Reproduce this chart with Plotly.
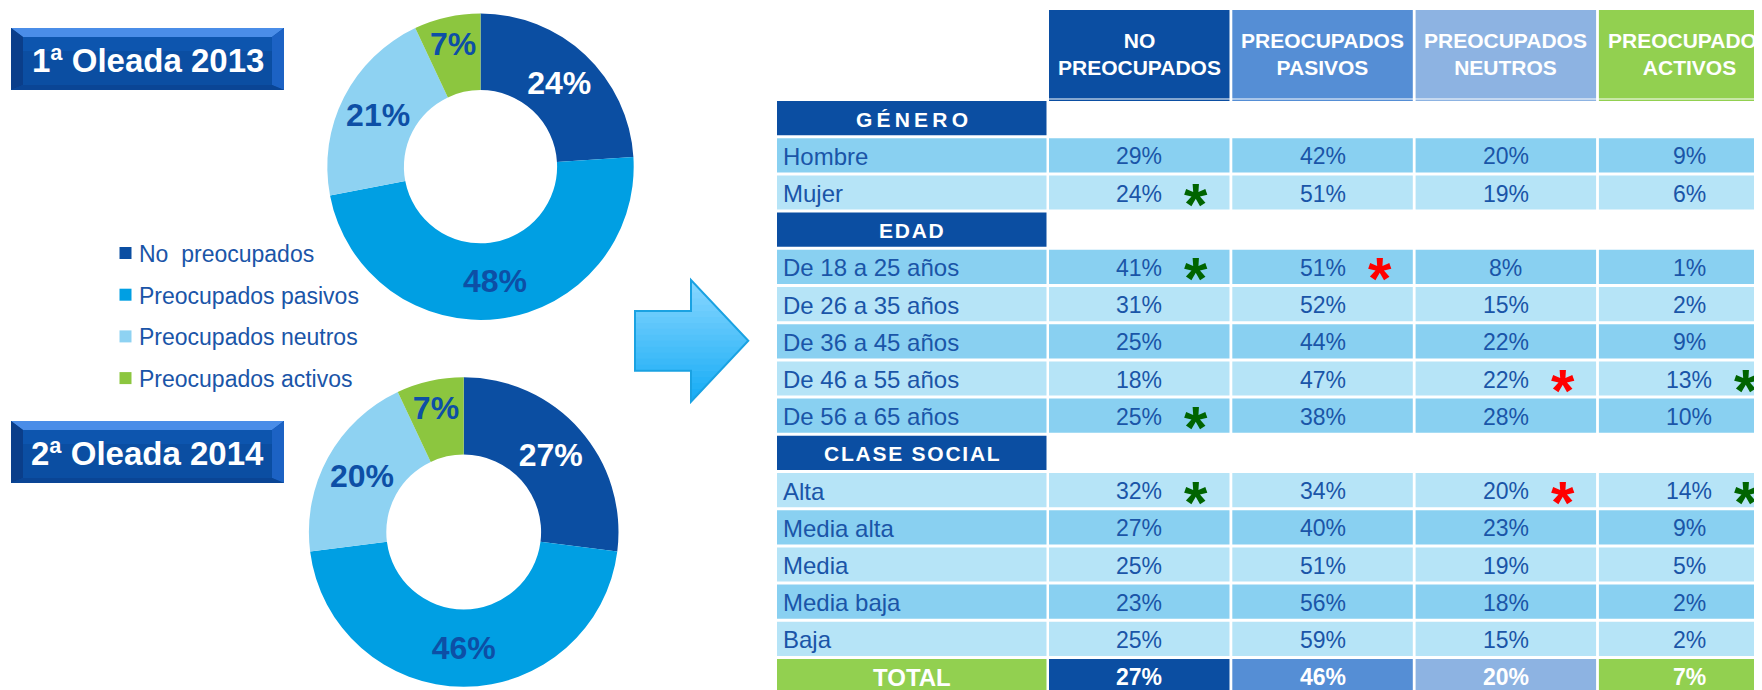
import plotly.graph_objects as go

# page is rendered with an 8px body margin; figure fills the rest of the 1762x690 window
OFF = 8
W, H = 1762 - OFF, 690 - OFF

# ---------------- data ----------------
segments = ["No  preocupados", "Preocupados pasivos", "Preocupados neutros", "Preocupados activos"]
wave_titles = ["1ª Oleada 2013", "2ª Oleada 2014"]
wave_2013 = [24, 48, 21, 7]
wave_2014 = [27, 46, 20, 7]

column_headers = ["NO<br>PREOCUPADOS", "PREOCUPADOS<br>PASIVOS", "PREOCUPADOS<br>NEUTROS", "PREOCUPADOS<br>ACTIVOS"]
sections = ["GÉNERO", "EDAD", "CLASE SOCIAL"]
section_rows = [
    ["Hombre", "Mujer"],
    ["De 18 a 25 años", "De 26 a 35 años", "De 36 a 45 años", "De 46 a 55 años", "De 56 a 65 años"],
    ["Alta", "Media alta", "Media", "Media baja", "Baja"],
]
no_preocupados = [29, 24, 41, 31, 25, 18, 25, 32, 27, 25, 23, 25]
pasivos = [42, 51, 51, 52, 44, 47, 38, 34, 40, 51, 56, 59]
neutros = [20, 19, 8, 15, 22, 22, 28, 20, 23, 19, 18, 15]
activos = [9, 6, 1, 2, 9, 13, 10, 14, 9, 5, 2, 2]
total_label = "TOTAL"
total_values = [27, 46, 20, 7]
# significance marks: "g" = green asterisk, "r" = red asterisk
sig_no_preocupados = ["", "g", "g", "", "", "", "g", "g", "", "", "", ""]
sig_pasivos = ["", "", "r", "", "", "", "", "", "", "", "", ""]
sig_neutros = ["", "", "", "", "", "r", "", "r", "", "", "", ""]
sig_activos = ["", "", "", "", "", "g", "", "g", "", "", "", ""]

# ---------------- styles ----------------
segment_colors = ["#0B4EA2", "#009FE3", "#8ED2F2", "#8CC63F"]
slice_text_colors = ["#FFFFFF", "#0D4FA6", "#0D4FA6", "#0D4FA6"]
header_colors = ["#0B4EA2", "#558ED5", "#8DB3E2", "#92D050"]
row_dark, row_light = "#89D0F1", "#B6E4F7"
text_blue = "#1A55A8"
sig_colors = {"g": "#006400", "r": "#FF0000"}
SANS = "Liberation Sans, Arial, sans-serif"


def px(x):
    return (x - OFF) / W


def py(y):
    return 1 - (y - OFF) / H


shapes = []
annotations = []


def rect(x0, y0, x1, y1, color):
    shapes.append(dict(type="rect", xref="paper", yref="paper", x0=px(x0), x1=px(x1),
                       y0=py(y1), y1=py(y0), fillcolor=color, line=dict(width=0), layer="below"))


def poly(points, color=None, line_color=None, line_width=0):
    d = "M " + " L ".join(f"{px(a):.6f},{py(b):.6f}" for a, b in points) + " Z"
    shapes.append(dict(type="path", xref="paper", yref="paper", path=d,
                       fillcolor=color if color else "rgba(0,0,0,0)",
                       line=dict(width=line_width, color=line_color or "rgba(0,0,0,0)"), layer="below"))


def text(x, y, s, size, color, bold=False, xanchor="center", yshift=0):
    annotations.append(dict(x=px(x), y=py(y), xref="paper", yref="paper", text=s, showarrow=False,
                            xanchor=xanchor, yanchor="middle", yshift=yshift,
                            font=dict(family=SANS, size=size, color=color,
                                      weight="bold" if bold else "normal")))


def mix(c1, c2, t):
    a = [int(c1[i:i + 2], 16) for i in (1, 3, 5)]
    b = [int(c2[i:i + 2], 16) for i in (1, 3, 5)]
    return "#" + "".join(f"{round(a[i] + (b[i] - a[i]) * t):02X}" for i in range(3))


fig = go.Figure()

# ---------------- donuts ----------------
donuts = [
    (wave_2013, (480.5, 166.7, 153.2)),
    (wave_2014, (463.7, 532.0, 154.8)),
]
for vals, (cx, cy, r) in donuts:
    fig.add_trace(go.Pie(
        values=vals, labels=segments, hole=0.5, sort=False, direction="clockwise", rotation=0,
        marker=dict(colors=segment_colors, line=dict(width=0)),
        texttemplate="%{value}%", textposition="inside", insidetextorientation="horizontal",
        textfont=dict(family=SANS, size=32, color=slice_text_colors, weight="bold"),
        domain=dict(x=[px(cx - r), px(cx + r)], y=[py(cy + r), py(cy - r)]),
        showlegend=False, hoverinfo="skip",
    ))

# title boxes with bevel
for title, (bx0, by0) in zip(wave_titles, [(11, 28), (11, 421)]):
    bx1, by1 = bx0 + 273, by0 + 62
    t, s, b = 9, 12, 5
    rect(bx0, by0, bx1, by1, "#0B4EA2")
    rect(bx0 + s, by0 + t, bx1 - s, by0 + t + 14, "#0D55AE")
    poly([(bx0, by0), (bx1, by0), (bx1 - s, by0 + t), (bx0 + s, by0 + t)], "#4A8DE8")
    poly([(bx0, by0), (bx0 + s, by0 + t), (bx0 + s, by1 - b), (bx0, by1)], "#0A3E8A")
    poly([(bx1, by0), (bx1 - s, by0 + t), (bx1 - s, by1 - b), (bx1, by1)], "#1C62C4")
    poly([(bx0, by1), (bx0 + s, by1 - b), (bx1 - s, by1 - b), (bx1, by1)], "#0A4595")
    text((bx0 + bx1) / 2, (by0 + by1) / 2 + 1, title, 33, "#FFFFFF", bold=True)

# legend
for i, (lab, col) in enumerate(zip(segments, segment_colors)):
    yc = 253 + 41.7 * i
    rect(119.5, yc - 6, 131.5, yc + 6, col)
    text(136.5, yc + 1, lab.replace("  ", "&nbsp; "), 23, text_blue, xanchor="left")

# arrow (vertical gradient built from thin strips over a solid base)
ax0, ax_neck, ax_tip = 635, 691, 748.3
ay_head_top, ay_body_top, ay_tip, ay_body_bot, ay_head_bot = 280, 311, 340.7, 370.7, 401.7
arrow_pts = [(ax0, ay_body_top), (ax_neck, ay_body_top), (ax_neck, ay_head_top), (ax_tip, ay_tip),
             (ax_neck, ay_head_bot), (ax_neck, ay_body_bot), (ax0, ay_body_bot)]
top_col, bot_col = "#8AD7FF", "#14ABF5"
poly(arrow_pts, mix(top_col, bot_col, 0.5))


def arrow_right(y):
    if y <= ay_tip:
        return ax_neck + (y - ay_head_top) / (ay_tip - ay_head_top) * (ax_tip - ax_neck)
    return ax_neck + (ay_head_bot - y) / (ay_head_bot - ay_tip) * (ax_tip - ax_neck)


bands = [(ay_head_top, ay_body_top, ax_neck), (ay_body_top, ay_tip, ax0),
         (ay_tip, ay_body_bot, ax0), (ay_body_bot, ay_head_bot, ax_neck)]
for ya, yb, left in bands:
    n = 5
    for i in range(n):
        y0 = ya + (yb - ya) * i / n
        y1 = ya + (yb - ya) * (i + 1) / n
        y1e = min(y1 + 1.0, yb)
        tmid = ((y0 + y1) / 2 - ay_head_top) / (ay_head_bot - ay_head_top)
        pts = [(left, y0), (arrow_right(y0), y0)]
        if y0 < ay_tip < y1e:
            pts.append((ax_tip, ay_tip))
        pts += [(arrow_right(y1e), y1e), (left, y1e)]
        poly(pts, mix(top_col, bot_col, tmid))
poly(arrow_pts, None, "#1AA2E2", 2)

# ---------------- table ----------------
label_x0, label_x1 = 777, 1046.5
col_x0 = [1049 + 183.3 * j for j in range(4)]
col_w = 180.5
row_top0, row_pitch, row_h = 101, 37.2, 34.2
header_top, header_bot = 10, 98.6

for j in range(4):
    x0 = col_x0[j]
    rect(x0, header_top, x0 + col_w, header_bot, header_colors[j])
    rect(x0, 99.6, x0 + col_w, 101, header_colors[j])
    text(x0 + col_w / 2, (header_top + header_bot) / 2, "<b>" + column_headers[j] + "</b>", 21, "#FFFFFF")

columns = [no_preocupados, pasivos, neutros, activos]
sigs = [sig_no_preocupados, sig_pasivos, sig_neutros, sig_activos]
section_spacers = ["\u2009", "\u200a", "\u200a"]

k = 0  # table row index
d = 0  # data row index
for sec, rows, spacer in zip(sections, section_rows, section_spacers):
    top = row_top0 + row_pitch * k
    rect(label_x0, top, label_x1, top + row_h, "#0B4EA2")
    text((label_x0 + label_x1) / 2, top + row_h / 2 + 1, spacer.join(sec), 21, "#FFFFFF", bold=True)
    k += 1
    for lab in rows:
        top = row_top0 + row_pitch * k
        yc = top + row_h / 2
        fill = row_dark if d % 2 == 0 else row_light
        rect(label_x0, top, label_x1, top + row_h, fill)
        text(781, yc + 1, lab, 24, text_blue, xanchor="left")
        for j in range(4):
            x0 = col_x0[j]
            rect(x0, top, x0 + col_w, top + row_h, fill)
            text(x0 + col_w / 2, yc + 1, f"{columns[j][d]}%", 23, text_blue)
            mark = sigs[j][d]
            if mark:
                text(x0 + col_w / 2 + 57, yc + 3, "*", 60, sig_colors[mark], bold=True, yshift=-9)
        k += 1
        d += 1

# total row
top = row_top0 + row_pitch * k
rect(label_x0, top, label_x1, top + row_h + 10, "#92D050")
text((label_x0 + label_x1) / 2, top + row_h / 2 + 1, total_label, 24, "#FFFFFF", bold=True)
for j in range(4):
    x0 = col_x0[j]
    rect(x0, top, x0 + col_w, top + row_h + 10, header_colors[j])
    text(x0 + col_w / 2, top + row_h / 2 + 1, f"{total_values[j]}%", 23, "#FFFFFF", bold=True)

fig.update_layout(
    width=W, height=H, margin=dict(l=0, r=0, t=0, b=0),
    paper_bgcolor="#FFFFFF", plot_bgcolor="#FFFFFF",
    shapes=shapes, annotations=annotations,
    uniformtext=dict(minsize=32, mode="show"),
    showlegend=False,
)

fig.write_html("out.html")
